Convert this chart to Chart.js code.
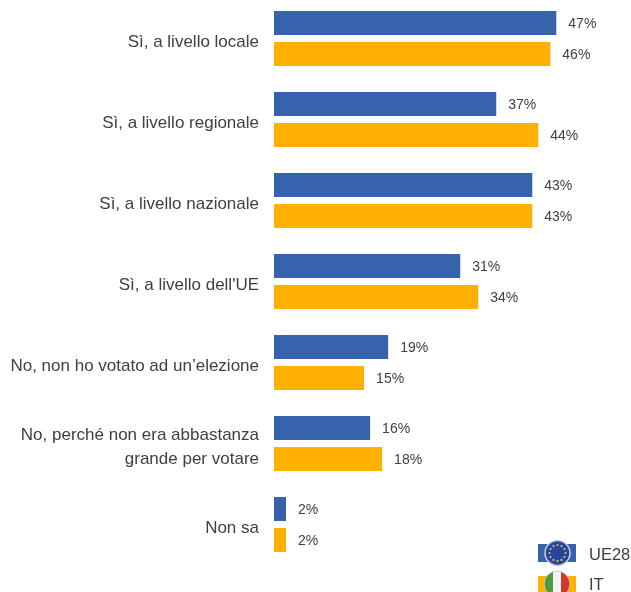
<!DOCTYPE html>
<html lang="it"><head><meta charset="utf-8">
<script src="https://cdn.jsdelivr.net/npm/chart.js@4"></script>
<style>
html,body{margin:0;padding:0;background:#fff;overflow:hidden;width:631px;height:592px}
#w{position:absolute;left:0;top:-2px;width:631px;height:594px}
.lg{position:absolute;font:16.5px "Liberation Sans",Arial,sans-serif;color:#404040;line-height:20px}
svg{position:absolute;overflow:visible}
</style></head><body>
<div id="w"><canvas id="c" width="631" height="594"></canvas></div>
<svg id="eu" width="38" height="18" style="left:538px;top:544px"></svg>
<svg id="it" width="38" height="16" style="left:538px;top:576px"></svg>
<div class="lg" style="left:589px;top:544px">UE28</div>
<div class="lg" style="left:589px;top:574px">IT</div>
<script>
const categories=[["Sì, a livello locale"],["Sì, a livello regionale"],["Sì, a livello nazionale"],["Sì, a livello dell'UE"],["No, non ho votato ad un’elezione"],["No, perché non era abbastanza","grande per votare"],["Non sa"]];
const ue28=[47,37,43,31,19,16,2];
const it=[46,44,43,34,15,18,2];
const BLUE="#3762AC",ORANGE="#FFB000",TXT="#404040",FONT='"Liberation Sans",Arial,sans-serif';
const valueLabels={id:"valueLabels",afterDatasetsDraw(ch){const x=ch.ctx;x.save();x.font="14px "+FONT;x.fillStyle=TXT;x.textBaseline="middle";x.textAlign="left";
 ch.data.datasets.forEach((d,i)=>ch.getDatasetMeta(i).data.forEach((b,j)=>x.fillText(d.data[j]+"%",b.x+12,b.y+1.5)));x.restore();}};
new Chart(document.getElementById("c"),{type:"bar",plugins:[valueLabels],
 data:{labels:categories,datasets:[
  {label:"UE28",data:ue28,backgroundColor:BLUE,categoryPercentage:62/81,barPercentage:24/31},
  {label:"IT",data:it,backgroundColor:ORANGE,categoryPercentage:62/81,barPercentage:24/31}]},
 options:{indexAxis:"y",responsive:false,animation:false,
  layout:{padding:{top:0,bottom:27,left:0,right:2}},
  plugins:{legend:{display:false},tooltip:{enabled:false}},
  scales:{
   x:{display:false,min:0,max:59.1},
   y:{afterFit(s){s.width=274;s.paddingTop=0;s.paddingBottom=0;},grid:{display:false},border:{display:false},
      ticks:{color:TXT,font:{size:17,family:FONT,lineHeight:1.4},padding:7,labelOffset:4,autoSkip:false}}
  }}});
const NS="http://www.w3.org/2000/svg";
function add(p,n,a){const e=document.createElementNS(NS,n);for(const k in a)e.setAttribute(k,a[k]);p.appendChild(e);return e;}
const eu=document.getElementById("eu");
add(eu,"rect",{x:0,y:0,width:38,height:18,fill:BLUE});
add(eu,"circle",{cx:19.5,cy:9,r:12.5,fill:"#26479E",stroke:"#C9D0E0","stroke-width":1.5});
for(let i=0;i<12;i++){const a=i*Math.PI/6;add(eu,"circle",{cx:19.5+8*Math.cos(a),cy:9+8*Math.sin(a),r:1.1,fill:"#D9C93B"});}
const itf=document.getElementById("it");
add(itf,"rect",{x:0,y:0,width:38,height:16,fill:ORANGE});
const defs=add(itf,"defs",{});const cp=add(defs,"clipPath",{id:"cc"});add(cp,"circle",{cx:19,cy:8,r:13});
const g=add(itf,"g",{"clip-path":"url(#cc)"});
add(g,"rect",{x:6,y:-5,width:9,height:26,fill:"#4D9B3F"});
add(g,"rect",{x:15,y:-5,width:8,height:26,fill:"#F4F4F4"});
add(g,"rect",{x:23,y:-5,width:9,height:26,fill:"#D8352E"});
add(itf,"circle",{cx:19,cy:8,r:13,fill:"none",stroke:"#C8C8C8","stroke-width":1});
</script></body></html>
